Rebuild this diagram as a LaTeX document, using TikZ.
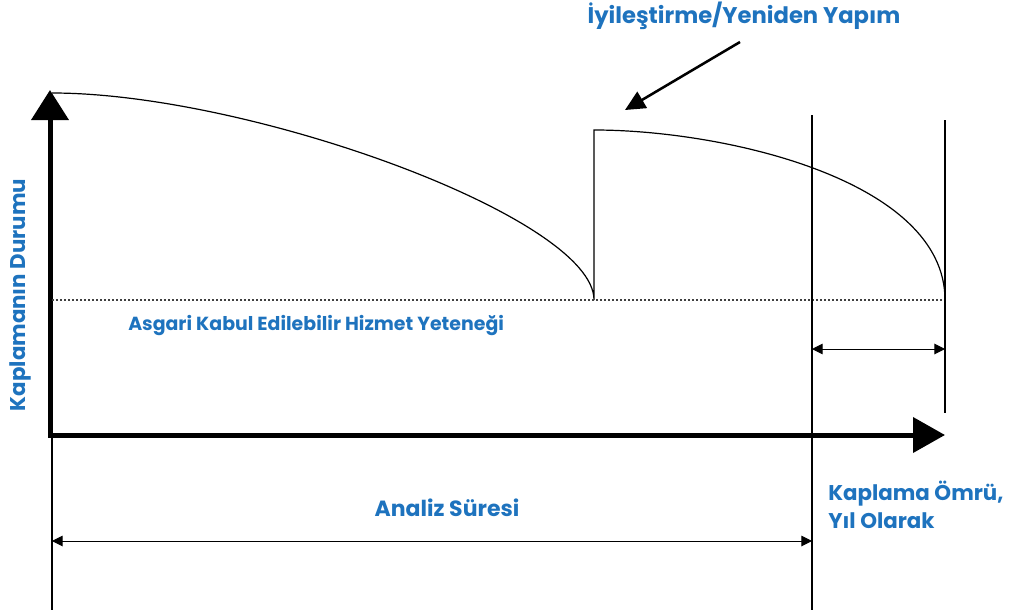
\documentclass[tikz,border=0pt]{standalone}
\usepackage{fontspec}
\setmainfont{Poppins}
\usetikzlibrary{arrows.meta, positioning}
\definecolor{labc}{RGB}{30,115,190}
\tikzset{
  lab/.style={text=labc, inner sep=0pt, font=\bfseries\fontsize{#1}{#1}\selectfont},
  lab/.default=14,
  axis/.style={line width=3.75pt},
  guide/.style={line width=0.9pt},
  curve/.style={line width=0.9pt},
  dimline/.style={{Triangle[length=8pt,width=8pt]}-{Triangle[length=8pt,width=8pt]},
                  line width=0.75pt},
}

\begin{document}
\begin{tikzpicture}[x=0.75pt, y=-0.75pt]
  \useasboundingbox (0,0) rectangle (1028,614);
  \coordinate (ytop) at (50,90);
  \coordinate (xend) at (945,435);

  % axes
  \draw[axis, {Triangle[length=22.5pt,width=27.5pt]}-{Triangle[length=24pt,width=26pt]}]
    (ytop) |- (xend);

  % condition curves
  \coordinate (s1) at (52,93);
  \coordinate (e1) at (594,300);
  \coordinate (s2) at (594,130);
  \coordinate (e2) at (945,300);
  \draw[curve] (s1) .. controls (250,93) and (594,218) .. (e1) -- (s2)
    .. controls (724,130) and (945,180) .. (e2);

  % minimum level
  \draw[dash pattern=on 1.5pt off 1.5pt, line width=0.9pt, black!75] (52,300) -- (e2);

  % guides
  \draw[guide] (52,437) -- (52,610);
  \draw[guide] (812,115) -- (812,610);
  \draw[guide] (945,120) -- (945,413);

  % spans
  \coordinate (la) at (52,541);
  \coordinate (ra) at (812,541);
  \coordinate (lb) at (812,349);
  \coordinate (rb) at (945,349);
  \draw[dimline] (la) -- (ra);
  \draw[dimline] (lb) -- (rb);

  % labels
  \node[lab=17] (fix) at (744,16) {İyileştirme/Yeniden Yapım};
  \coordinate (tail) at (740,42);
  \coordinate (tip) at (625,110);
  \draw[line width=1.9pt, -{Triangle[length=15pt,width=14pt]}] (tail) -- (tip);

  \node[lab=14.2, anchor=west] (min) at (128,326) {Asgari Kabul Edilebilir Hizmet Yeteneği};
  \node[lab=16, rotate=90] (cond) at (20,295) {Kaplamanın Durumu};
  \node[lab=16.5] (anl) at (447,508) {Analiz Süresi};
  \node[lab=16, anchor=north west, align=left, font=\bfseries\fontsize{16}{21}\selectfont]
    (life) at (828,481) {Kaplama Ömrü,\\Yıl Olarak};
\end{tikzpicture}
\end{document}
